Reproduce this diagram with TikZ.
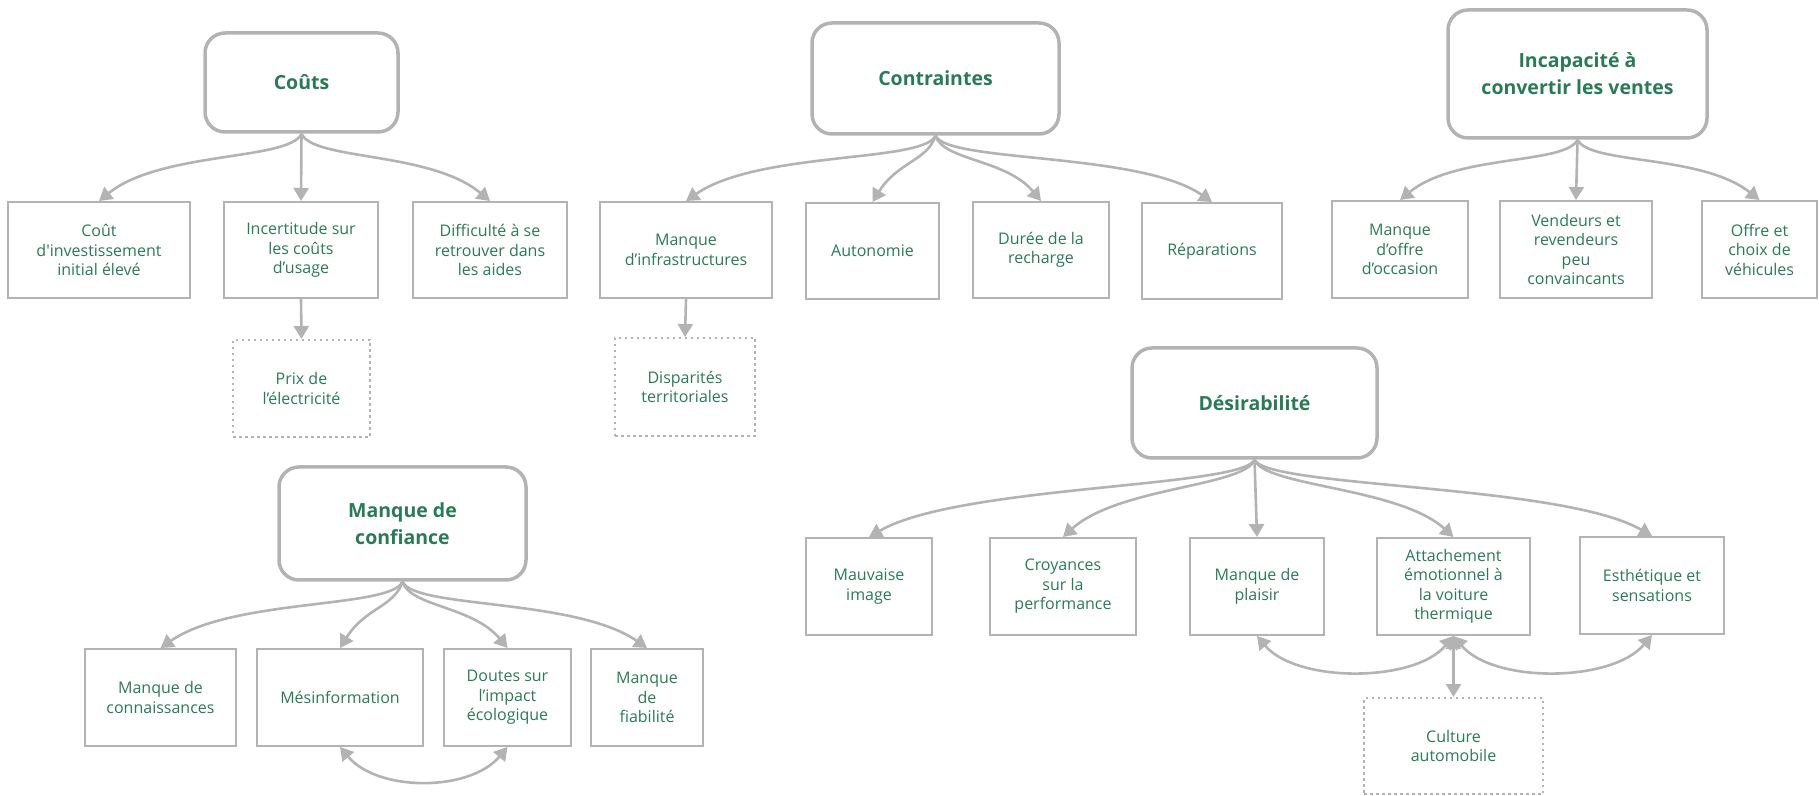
\documentclass[tikz,border=0pt]{standalone}
\usepackage{fontspec}
\setmainfont{Open Sans}[Ligatures=TeXOff]
\usetikzlibrary{arrows.meta,positioning}
\definecolor{linegray}{HTML}{B3B3B3}
\definecolor{vert}{HTML}{2B7A56}

\begin{document}
\begin{tikzpicture}[x=1pt,y=1pt,
  parent/.style={draw=linegray,line width=3.5pt,rounded corners=20pt,font=\fontsize{19.5}{27}\selectfont\bfseries,text=vert,align=center,inner sep=0pt},
  cause/.style={draw=linegray,line width=2pt,font=\fontsize{16}{19.5}\selectfont,text=vert,align=center,inner sep=0pt},
  souscause/.style={cause,dash pattern=on 2.5pt off 3.5pt},
  lien/.style={draw=linegray,line width=2.6pt,-{Triangle[length=13pt,width=15pt]}},
  lienbi/.style={lien,{Triangle[length=13pt,width=15pt]}-{Triangle[length=13pt,width=15pt]}}
]
\useasboundingbox (0,0) rectangle (1819,795);

% Couts
\node[parent,minimum width=193pt,minimum height=99pt] (couts) at (301.5,712.5) {Coûts};
\node[cause,minimum width=182pt,minimum height=96pt] (coutinv) at (99,545) {Coût\\d'investissement\\initial élevé};
\node[cause,minimum width=154pt,minimum height=96pt] (incert) at (301,545) {Incertitude sur\\les coûts\\d’usage};
\node[cause,minimum width=154pt,minimum height=96pt] (diffic) at (490,545) {Difficulté à se\\retrouver dans\\les aides};
\node[souscause,minimum width=137pt,minimum height=97pt] (prix) at (301.5,406.5) {Prix de\\l’électricité};

\draw[lien] (couts.south) .. controls +(-12,-27) and +(62,50) .. (coutinv.north);
\draw[lien] (couts.south) -- (incert.north);
\draw[lien] (couts.south) .. controls +(12,-27) and +(-60,50) .. (diffic.north);
\draw[lien] (incert.south) -- (prix.north);

% Contraintes
\node[parent,minimum width=247pt,minimum height=111pt] (contr) at (935.5,716.5) {Contraintes};
\node[cause,minimum width=172pt,minimum height=96pt] (infra) at (686,545) {Manque\\d’infrastructures};
\node[cause,minimum width=133pt,minimum height=96pt] (autono) at (872.5,544) {Autonomie};
\node[cause,minimum width=136pt,minimum height=96pt] (duree) at (1041,545) {Durée de la\\recharge};
\node[cause,minimum width=140pt,minimum height=96pt] (repar) at (1212,544) {Réparations};
\node[souscause,minimum width=140pt,minimum height=98pt] (dispar) at (685,408) {Disparités\\territoriales};

\draw[lien] (contr.south) .. controls +(-12,-27) and +(72,50) .. (infra.north);
\draw[lien] (contr.south) .. controls +(-8,-25) and +(25,40) .. (autono.north);
\draw[lien] (contr.south) .. controls +(8,-25) and +(-35,42) .. (duree.north);
\draw[lien] (contr.south) .. controls +(12,-27) and +(-72,50) .. (repar.north);
\draw[lien] (infra.south) -- (dispar.north);

% Incapacite
\node[parent,minimum width=259pt,minimum height=128pt] (incap) at (1577.5,721) {Incapacité à\\convertir les ventes};
\node[cause,minimum width=136pt,minimum height=97pt] (occas) at (1400,545.5) {Manque\\d’offre\\d’occasion};
\node[cause,minimum width=152pt,minimum height=97pt] (vend) at (1576,545.5) {Vendeurs et\\revendeurs\\peu\\convaincants};
\node[cause,minimum width=115pt,minimum height=97pt] (offre) at (1759.5,545.5) {Offre et\\choix de\\véhicules};

\draw[lien] (incap.south) .. controls +(-12,-25) and +(56,46) .. (occas.north);
\draw[lien] (incap.south) -- (vend.north);
\draw[lien] (incap.south) .. controls +(12,-25) and +(-58,46) .. (offre.north);

% Confiance
\node[parent,minimum width=247pt,minimum height=113pt] (conf) at (402.5,271.5) {Manque de\\confiance};
\node[cause,minimum width=151pt,minimum height=97pt] (connais) at (160.5,97.5) {Manque de\\connaissances};
\node[cause,minimum width=166pt,minimum height=97pt] (mesinf) at (340,97.5) {Mésinformation};
\node[cause,minimum width=127pt,minimum height=97pt] (doutes) at (507.5,97.5) {Doutes sur\\l’impact\\écologique};
\node[cause,minimum width=112pt,minimum height=97pt] (fiab) at (647,97.5) {Manque\\de\\fiabilité};

\draw[lien] (conf.south) .. controls +(-12,-27) and +(72,50) .. (connais.north);
\draw[lien] (conf.south) .. controls +(-8,-25) and +(25,40) .. (mesinf.north);
\draw[lien] (conf.south) .. controls +(8,-25) and +(-35,42) .. (doutes.north);
\draw[lien] (conf.south) .. controls +(12,-27) and +(-72,50) .. (fiab.north);
\draw[lienbi] (mesinf.south) to[out=-50,in=-130,looseness=0.9] (doutes.south);

% Desirabilite
\node[parent,minimum width=245pt,minimum height=110pt] (desir) at (1254.5,392) {Désirabilité};
\node[cause,minimum width=126pt,minimum height=97pt] (image) at (869,208.5) {Mauvaise\\image};
\node[cause,minimum width=146pt,minimum height=97pt] (croy) at (1063,208.5) {Croyances\\sur la\\performance};
\node[cause,minimum width=134pt,minimum height=97pt] (plaisir) at (1257,208.5) {Manque de\\plaisir};
\node[cause,minimum width=153pt,minimum height=97pt] (attach) at (1453.5,208.5) {Attachement\\émotionnel à\\la voiture\\thermique};
\node[cause,minimum width=144pt,minimum height=97pt] (esthet) at (1652,209.5) {Esthétique et\\sensations};
\node[souscause,minimum width=179pt,minimum height=96pt] (culture) at (1453.5,49) {Culture\\automobile};

\draw[lien] (desir.south) .. controls +(-12,-28) and +(90,52) .. (image.north);
\draw[lien] (desir.south) .. controls +(-10,-27) and +(55,50) .. (croy.north);
\draw[lien] (desir.south) -- (plaisir.north);
\draw[lien] (desir.south) .. controls +(10,-27) and +(-55,50) .. (attach.north);
\draw[lien] (desir.south) .. controls +(12,-28) and +(-90,52) .. (esthet.north);
\draw[lienbi] (attach.south) to[out=-130,in=-50,looseness=0.8] (plaisir.south);
\draw[lienbi] (attach.south) to[out=-50,in=-130,looseness=0.8] (esthet.south);
\draw[lienbi] (attach.south) -- (culture.north);
\end{tikzpicture}
\end{document}
